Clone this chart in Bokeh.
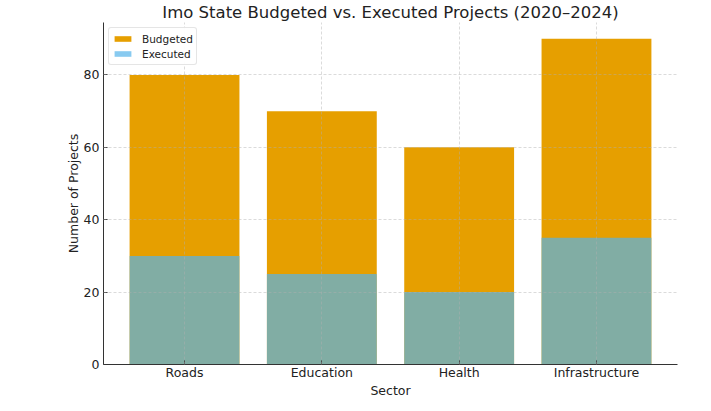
from bokeh.plotting import figure
from bokeh.models import ColumnDataSource, FixedTicker, Range1d, Legend, LegendItem
from bokeh.embed import file_html
from bokeh.resources import INLINE

# Project counts per sector, 2020-2024
sectors = ["Roads", "Education", "Health", "Infrastructure"]
budgeted = [80, 70, 60, 90]
executed = [30, 25, 20, 35]
y_ticks = [0, 20, 40, 60, 80]

positions = list(range(len(sectors)))
src = ColumnDataSource(dict(x=positions, budgeted=budgeted, executed=executed))

FONT = "DejaVu Sans"
TXT = "#222222"

p = figure(
    width=711, height=411,
    x_range=Range1d(-0.59, len(sectors) - 1 + 0.59),
    y_range=Range1d(0, max(budgeted) * 1.05),
    output_backend="svg", toolbar_location=None,
    min_border_left=103, min_border_right=34,
    min_border_top=0, min_border_bottom=47,
    title="Imo State Budgeted vs. Executed Projects (2020\u20132024)",
)
p.outline_line_color = None

p.title.text_font = FONT
p.title.text_font_size = "16.5px"
p.title.text_font_style = "normal"
p.title.text_color = TXT
p.title.align = "center"
p.title.offset = 0
p.title.standoff = 1
p.title.text_line_height = 1.0

b = p.vbar(x="x", top="budgeted", width=0.8, source=src,
           fill_color="#E69F00", line_color=None)
e = p.vbar(x="x", top="executed", width=0.8, source=src,
           fill_color="#56B4E9", fill_alpha=0.7, line_color=None)

legend = Legend(items=[LegendItem(label="Budgeted", renderers=[b]),
                       LegendItem(label="Executed", renderers=[e])],
                location="top_left")
legend.label_text_font = FONT
legend.label_text_font_size = "10.5px"
legend.label_text_color = TXT
legend.border_line_color = "#cccccc"
legend.border_radius = 3
legend.margin = 5
legend.padding = 3
legend.spacing = 0
legend.glyph_width = 21
legend.glyph_height = 7
legend.label_height = 15
legend.label_standoff = 9
p.add_layout(legend)

p.xaxis.ticker = FixedTicker(ticks=positions)
p.xaxis.major_label_overrides = {i: s for i, s in enumerate(sectors)}
p.yaxis.ticker = FixedTicker(ticks=y_ticks)

for ax in (p.xaxis[0], p.yaxis[0]):
    ax.major_tick_in = 4
    ax.major_tick_out = 0
    ax.minor_tick_line_color = None
    ax.axis_line_color = "#333333"
    ax.major_tick_line_color = "#333333"
    ax.major_label_text_font = FONT
    ax.major_label_text_font_size = "12.5px"
    ax.major_label_text_color = TXT
    ax.axis_label_text_font = FONT
    ax.axis_label_text_font_size = "12.5px"
    ax.axis_label_text_font_style = "normal"
    ax.axis_label_text_color = TXT

p.xaxis.axis_label = "Sector"
p.yaxis.axis_label = "Number of Projects"
p.xaxis.major_label_standoff = 0
p.yaxis.major_label_standoff = 4
p.xaxis.axis_label_standoff = 0
p.yaxis.axis_label_standoff = 0

for g in (p.xgrid[0], p.ygrid[0]):
    g.level = "overlay"
    g.grid_line_color = "#b0b0b0"
    g.grid_line_alpha = 0.45
    g.grid_line_dash = "3 2"
    g.grid_line_width = 1

open("out.html", "w").write(file_html(p, INLINE))
